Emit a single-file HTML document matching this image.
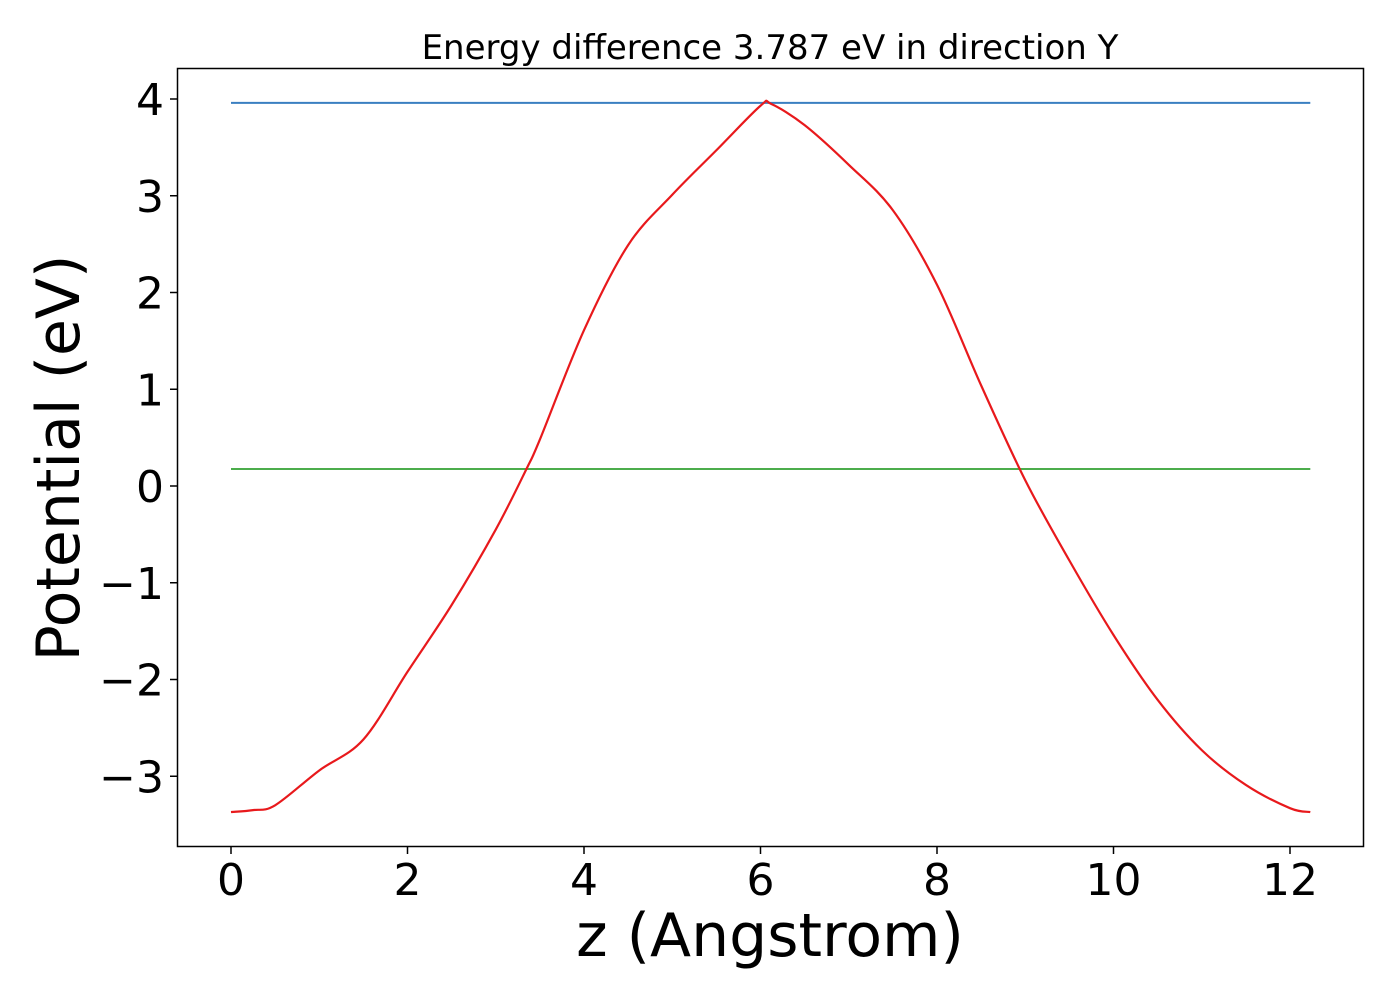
<!DOCTYPE html>
<html><head><meta charset="utf-8"><style>body{margin:0;background:#fff}svg{display:block}text{font-family:"DejaVu Sans","Liberation Sans",sans-serif}</style></head>
<body>
<svg id="chart" width="1400" height="1000"></svg>
<script>
const zValues=[0,0.25,0.5,1,1.5,2,2.5,3,3.35,3.5,4,4.5,5,5.5,6,6.12,6.5,7,7.5,8,8.5,9,9.5,10,10.5,11,11.5,12,12.23];
const potValues=[-3.37,-3.35,-3.3,-2.94,-2.62,-1.92,-1.23,-0.45,0.18,0.48,1.61,2.49,3.01,3.47,3.93,3.95,3.73,3.32,2.85,2.08,1.04,0.06,-0.77,-1.54,-2.21,-2.73,-3.09,-3.33,-3.37];
const blueLevel=3.96;
const greenLevel=0.176;
const xTicks=[0,2,4,6,8,10,12];
const yTicks=[-3,-2,-1,0,1,2,3,4];
const NS="http://www.w3.org/2000/svg";
const svg=document.getElementById('chart');
const X=v=>231+v*88.25, Y=v=>486-v*96.75;
function mk(t,a,p){const e=document.createElementNS(NS,t);for(const k in a)e.setAttribute(k,a[k]);(p||svg).appendChild(e);return e;}
const frame=mk('rect',{x:177.5,y:68.5,width:1186,height:778,fill:'none',stroke:'#000','stroke-width':1.5});


xTicks.forEach(t=>{
  const l=mk('line',{x1:X(t),x2:X(t),y1:847,y2:854,stroke:'#000','stroke-width':1.5});
  
  
  const tx=mk('text',{x:X(t),y:895,'font-size':44,'text-anchor':'middle'});
  tx.textContent=String(t);
  
  
});
yTicks.forEach(t=>{
  const l=mk('line',{x1:170,x2:177,y1:Y(t),y2:Y(t),stroke:'#000','stroke-width':1.5});
  
  
  const tx=mk('text',{x:164,y:Y(t)+16,'font-size':44,'text-anchor':'end'});
  tx.textContent=t<0?'\u2212'+Math.abs(t):String(t);
  
  
});
const x0=zValues[0], x1=zValues[zValues.length-1];
const bl=mk('line',{x1:X(x0),x2:X(x1),y1:Y(blueLevel),y2:Y(blueLevel),stroke:'#3a7fc1','stroke-width':2});


const gl=mk('line',{x1:X(x0),x2:X(x1),y1:Y(greenLevel),y2:Y(greenLevel),stroke:'#4cad4c','stroke-width':2});


// smooth curve via Catmull-Rom
const pts=zValues.map((z,i)=>[X(z),Y(potValues[i])]);
let d='M'+pts[0][0]+','+pts[0][1];
for(let i=0;i<pts.length-1;i++){
  const p0=pts[Math.max(0,i-1)],p1=pts[i],p2=pts[i+1],p3=pts[Math.min(pts.length-1,i+2)];
  const c1=[p1[0]+(p2[0]-p0[0])/6,p1[1]+(p2[1]-p0[1])/6];
  const c2=[p2[0]-(p3[0]-p1[0])/6,p2[1]-(p3[1]-p1[1])/6];
  d+=` C${c1[0]},${c1[1]} ${c2[0]},${c2[1]} ${p2[0]},${p2[1]}`;
}
const cv=mk('path',{d:d,fill:'none',stroke:'#e8191c','stroke-width':2.2});


const ti=mk('text',{x:770,y:59,'font-size':34,'text-anchor':'middle'});
ti.textContent='Energy difference 3.787 eV in direction Y';


const xl=mk('text',{x:770,y:956,'font-size':60,'text-anchor':'middle'});
xl.textContent='z (Angstrom)';


const yl=mk('text',{x:0,y:0,'font-size':60,'text-anchor':'middle',transform:'translate(79,458) rotate(-90)'});
yl.textContent='Potential (eV)';


</script>
</body></html>
